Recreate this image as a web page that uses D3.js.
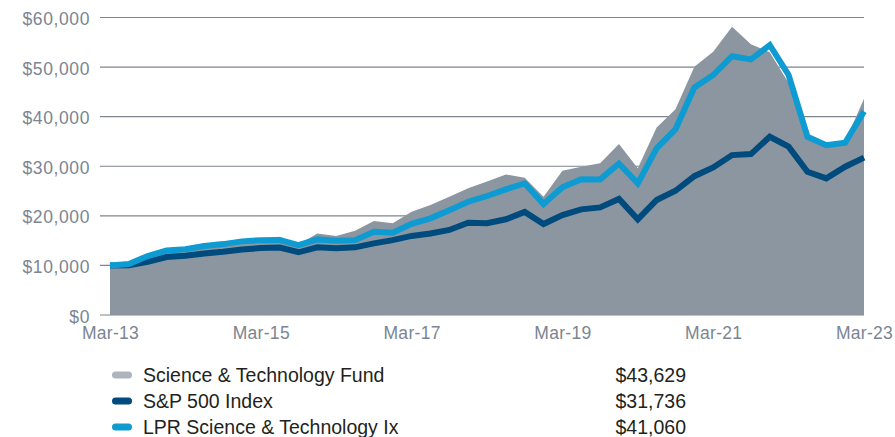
<!DOCTYPE html>
<html>
<head>
<meta charset="utf-8">
<script src="https://cdn.jsdelivr.net/npm/d3@7"></script>
<style>
  html, body { margin: 0; padding: 0; background: #fff; }
  svg { display: block; font-family: "Liberation Sans", Arial, sans-serif; }
</style>
</head>
<body>
<div id="chart"></div>
<script>
// quarterly points, Mar-13 .. Mar-23
const quarters = d3.range(41)
const tickLabels = ['Mar-13', 'Mar-15', 'Mar-17', 'Mar-19', 'Mar-21', 'Mar-23']
const yTicks = [0, 10000, 20000, 30000, 40000, 50000, 60000]

const fund = [10000, 10200, 11400, 12700, 13000, 13700, 14200, 14800, 15400, 15800,
  14200, 16450, 15950, 17000, 18950, 18500, 20800, 22200, 23850, 25550,
  26900, 28350, 27700, 23850, 29100, 29900, 30600, 34500, 29600, 37800,
  41500, 50050, 53100, 58150, 54600, 53000, 46800, 36300, 34000, 35000, 43629]
const sp500 = [10000, 10050, 10750, 11700, 11950, 12400, 12750, 13200, 13500, 13600,
  12650, 13650, 13450, 13650, 14450, 15100, 15950, 16450, 17150, 18600,
  18500, 19300, 20800, 18350, 20150, 21300, 21700, 23400, 19300, 23200,
  25050, 28000, 29750, 32250, 32450, 35950, 33950, 28900, 27550, 29900, 31736]
const lpr = [10000, 10300, 11900, 13000, 13250, 13900, 14300, 14850, 15100, 15150,
  14100, 15250, 15000, 15100, 16800, 16600, 18400, 19500, 21150, 22850,
  24000, 25350, 26550, 22400, 25750, 27400, 27350, 30550, 26550, 33600,
  37450, 45900, 48400, 52200, 51550, 54450, 48400, 35950, 34250, 34750, 41060]

const legendNames = ['Science & Technology Fund', 'S&P 500 Index', 'LPR Science & Technology Ix']
const legendValues = ['$43,629', '$31,736', '$41,060']
const legendColors = ['#adb4bc', '#004b7d', '#0e9bd2']

const width = 895, height = 437
const svg = d3.select('#chart').append('svg')
  .attr('width', width)
  .attr('height', height)

const x = d3.scaleLinear().domain([0, 40]).range([110, 864])
const y = d3.scaleLinear().domain([0, 60000]).range([315, 17.5])

// gridlines
svg.append('g')
  .selectAll('line')
  .data(yTicks)
  .join('line')
  .attr('x1', 100).attr('x2', 864)
  .attr('y1', d => y(d)).attr('y2', d => y(d))
  .attr('stroke', '#7e858e')
  .attr('stroke-width', 1.2)

// fund area
svg.append('path')
  .datum(quarters)
  .attr('d', d3.area().x(i => x(i)).y0(y(0)).y1(i => y(fund[i])))
  .attr('fill', '#8c96a1')

const line = arr => d3.line().x(i => x(i)).y(i => y(arr[i]))

svg.append('path')
  .datum(quarters)
  .attr('d', line(sp500))
  .attr('fill', 'none')
  .attr('stroke', '#004b7d')
  .attr('stroke-width', 6)

svg.append('path')
  .datum(quarters)
  .attr('d', line(lpr))
  .attr('fill', 'none')
  .attr('stroke', '#0e9bd2')
  .attr('stroke-width', 6)

// y axis labels
const yAxis = svg.append('g')
  .attr('transform', 'translate(100,0)')
  .call(d3.axisLeft(y).tickValues(yTicks).tickSize(0).tickPadding(10)
    .tickFormat(d => '$' + d3.format(',')(d)))
yAxis.select('.domain').remove()
yAxis.selectAll('text')
  .attr('font-family', '"Liberation Sans", Arial, sans-serif')
  .attr('font-size', 17.5)
  .attr('letter-spacing', 0.6)
  .attr('fill', '#7b8591')
  .attr('dy', '0.75em')
  .attr('y', -6)

// x axis labels
const xAxis = svg.append('g')
  .attr('transform', `translate(0,${y(0)})`)
  .call(d3.axisBottom(x).tickValues([0, 8, 16, 24, 32, 40]).tickSize(0).tickPadding(12)
    .tickFormat((d, i) => tickLabels[i]))
xAxis.select('.domain').remove()
xAxis.selectAll('text')
  .attr('font-family', '"Liberation Sans", Arial, sans-serif')
  .attr('font-size', 17.5)
  .attr('letter-spacing', 0.3)
  .attr('fill', '#7b8591')

// legend
const rowY = [375, 401, 427]
const legend = svg.append('g')
legendNames.forEach((name, i) => {
  legend.append('rect')
    .attr('x', 112).attr('y', rowY[i] - 3.5)
    .attr('width', 20).attr('height', 7)
    .attr('rx', 3.5)
    .attr('fill', legendColors[i])
  legend.append('text')
    .attr('x', 143).attr('y', rowY[i] + 7)
    .attr('font-size', 19.5)
    .attr('fill', '#231f20')
    .text(name)
  legend.append('text')
    .attr('x', 686).attr('y', rowY[i] + 7)
    .attr('text-anchor', 'end')
    .attr('font-size', 19.5)
    .attr('fill', '#231f20')
    .text(legendValues[i])
})
</script>
</body>
</html>
